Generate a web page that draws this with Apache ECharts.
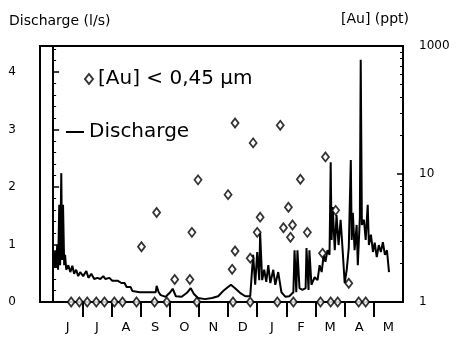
<!DOCTYPE html>
<html>
<head>
<meta charset="utf-8">
<script src="https://cdn.jsdelivr.net/npm/echarts@6/dist/echarts.min.js"></script>
<style>
html,body{margin:0;padding:0;background:#fff;}
#chart{width:464px;height:337px;}
</style>
</head>
<body>
<div id="chart"></div>
<script>
// Month labels (x axis: months since 1 June)
var monthLabels = ['J','J','A','S','O','N','D','J','F','M','A','M'];
var monthTicks = [1,2,3,4,5,6,7,8,9,10,11];
var monthLabelPos = [0.5,1.5,2.5,3.5,4.5,5.5,6.5,7.5,8.5,9.5,10.5,11.5];
// Left axis ticks
var dischargeTicks = [0,1,2,3,4];
// Right axis (log) tick labels as printed
var auTickValues = [1,10,100];
var auTickLabels = ['1','10','1000'];

// Discharge (l/s): [month, value]
var dischargeX = [0.03,0.07,0.10,0.14,0.17,0.21,0.24,0.28,0.31,0.34,0.38,0.41,0.45,0.52,0.59,0.66,0.72,0.79,0.86,0.93,
1.03,1.14,1.21,1.31,1.41,1.52,1.62,1.72,1.79,1.93,2.03,2.21,2.34,2.45,2.52,2.66,2.72,2.97,3.31,3.52,3.55,3.62,3.69,3.86,
4.00,4.10,4.21,4.41,4.59,4.72,4.83,4.97,5.21,5.45,5.66,5.83,6.00,6.10,6.24,6.41,6.59,6.76,6.86,6.93,7.00,7.07,7.10,7.17,
7.24,7.31,7.38,7.45,7.55,7.62,7.72,7.83,7.97,8.10,8.24,8.28,8.34,8.38,8.45,8.55,8.66,8.69,8.76,8.79,8.86,8.97,9.07,9.14,
9.21,9.28,9.34,9.41,9.48,9.52,9.55,9.59,9.66,9.72,9.79,9.86,9.93,10.00,10.07,10.14,10.21,10.24,10.28,10.34,10.41,10.45,
10.52,10.55,10.59,10.66,10.72,10.79,10.83,10.90,10.97,11.03,11.10,11.17,11.24,11.31,11.38,11.45,11.52];
var dischargeY = [0.59,0.90,0.59,0.99,0.56,1.69,0.64,2.24,0.73,1.69,0.64,0.82,0.56,0.64,0.52,0.63,0.49,0.56,0.45,0.52,
0.45,0.54,0.42,0.49,0.40,0.42,0.40,0.45,0.40,0.42,0.37,0.37,0.33,0.33,0.26,0.26,0.19,0.17,0.17,0.17,0.28,0.17,0.12,0.09,
0.16,0.23,0.10,0.09,0.16,0.24,0.14,0.07,0.05,0.07,0.10,0.19,0.26,0.30,0.24,0.16,0.10,0.10,0.82,0.30,0.87,0.38,1.20,0.38,
0.56,0.35,0.64,0.33,0.56,0.30,0.52,0.17,0.09,0.10,0.17,0.90,0.17,0.90,0.24,0.21,0.24,0.94,0.21,0.90,0.30,0.43,0.38,0.64,
0.52,0.82,0.70,0.90,0.82,2.43,1.08,1.65,0.90,1.51,0.99,1.43,0.90,0.33,0.56,0.94,2.47,1.08,1.55,0.90,1.34,0.64,
1.46,4.21,1.34,1.43,1.08,1.69,0.99,1.17,0.87,1.03,0.78,0.99,0.87,1.04,0.82,0.90,0.52];

// [Au] (ppt): [month, value]
var auX = [3.03,3.55,4.97,4.76,4.17,4.69,6.00,6.24,6.86,7.10,7.00,6.24,6.76,6.14,7.79,8.48,8.07,7.90,8.21,8.14,8.72,9.34,9.69,9.24,10.14,
0.62,0.90,1.17,1.48,1.76,2.10,2.38,2.86,3.48,3.90,4.93,6.17,6.76,7.69,8.24,9.17,9.52,9.76,10.48,10.72];
var auY = [2.7,5.0,9.0,3.5,1.5,1.5,6.9,25,17.5,4.6,3.5,2.5,2.2,1.8,24,9.1,5.5,3.8,4.0,3.2,3.5,13.6,5.2,2.4,1.4,
1,1,1,1,1,1,1,1,1,1,1,1,1,1,1,1,1,1,1,1];

var dischargeData = dischargeX.map(function(x,i){return [x, dischargeY[i]];});
var auData = auX.map(function(x,i){return [x, auY[i]];});

var FONT = 'DejaVu Sans';
var chart = echarts.init(document.getElementById('chart'));
chart.setOption({
  animation: false,
  backgroundColor: '#fff',
  textStyle: {fontFamily: FONT, color: '#000'},
  title: [
    {text: 'Discharge (l/s)', left: 4, top: 9, textStyle: {fontFamily: FONT, fontSize: 14, fontWeight: 'normal', color: '#000'}},
    {text: '[Au] (ppt)', left: 336, top: 7, textStyle: {fontFamily: FONT, fontSize: 14, fontWeight: 'normal', color: '#000'}}
  ],
  legend: [
    {data: ['[Au] < 0,45 µm'], left: 79, top: 64, itemWidth: 8, itemHeight: 10, itemGap: 11,
     textStyle: {fontFamily: FONT, fontSize: 20, color: '#000'}},
    {data: [{name: 'Discharge', icon: 'rect'}], left: 61, top: 117, itemWidth: 18, itemHeight: 2, itemGap: 8,
     textStyle: {fontFamily: FONT, fontSize: 20, color: '#000'}}
  ],
  grid: {left: 40, right: 61, top: 46, bottom: 35, show: true, borderColor: '#000', borderWidth: 2},
  xAxis: {
    type: 'value', min: -0.45, max: 12,
    axisLine: {lineStyle: {color: '#000', width: 2}},
    axisTick: {show: true, customValues: monthTicks, length: 15, lineStyle: {color: '#000', width: 2}},
    axisLabel: {customValues: monthLabelPos, margin: 19, fontSize: 13, color: '#000', fontFamily: FONT,
      formatter: function(v){ return monthLabels[Math.round(v - 0.5)]; }},
    splitLine: {show: false}
  },
  yAxis: [
    {
      type: 'value', min: 0, max: 4.45, interval: 1,
      axisLine: {show: true, lineStyle: {color: '#000', width: 2}},
      axisTick: {show: true, inside: true, length: 6, lineStyle: {color: '#000', width: 1.5}},
      minorTick: {show: true, splitNumber: 5, length: 3, lineStyle: {color: '#000', width: 1}},
      axisLabel: {margin: 24, fontSize: 12, color: '#000', fontFamily: FONT, showMaxLabel: false,
        formatter: function(v){ return dischargeTicks.indexOf(v) >= 0 ? String(v) : ''; }},
      splitLine: {show: false}
    },
    {
      type: 'log', logBase: 10, min: 1, max: 100, position: 'right',
      axisLine: {show: true, lineStyle: {color: '#000', width: 2}},
      axisTick: {show: true, inside: true, length: 6, lineStyle: {color: '#000', width: 1.5}},
      minorTick: {show: true, splitNumber: 9, length: 3, lineStyle: {color: '#000'}},
      axisLabel: {margin: 16, fontSize: 12, color: '#000', fontFamily: FONT,
        formatter: function(v){ var i = auTickValues.indexOf(Math.round(v)); return i >= 0 ? auTickLabels[i] : ''; }},
      splitLine: {show: false}
    }
  ],
  series: [
    {
      name: 'Discharge', type: 'line', yAxisIndex: 0, data: dischargeData,
      symbol: 'none', lineStyle: {color: '#000', width: 2}, itemStyle: {color: '#000'}, z: 2
    },
    {
      name: '[Au] < 0,45 µm', type: 'scatter', yAxisIndex: 1, data: auData,
      symbol: 'diamond', symbolSize: [7, 9],
      itemStyle: {color: '#fff', borderColor: '#000', borderWidth: 1.8}, z: 3
    }
  ]
});
</script>
</body>
</html>
